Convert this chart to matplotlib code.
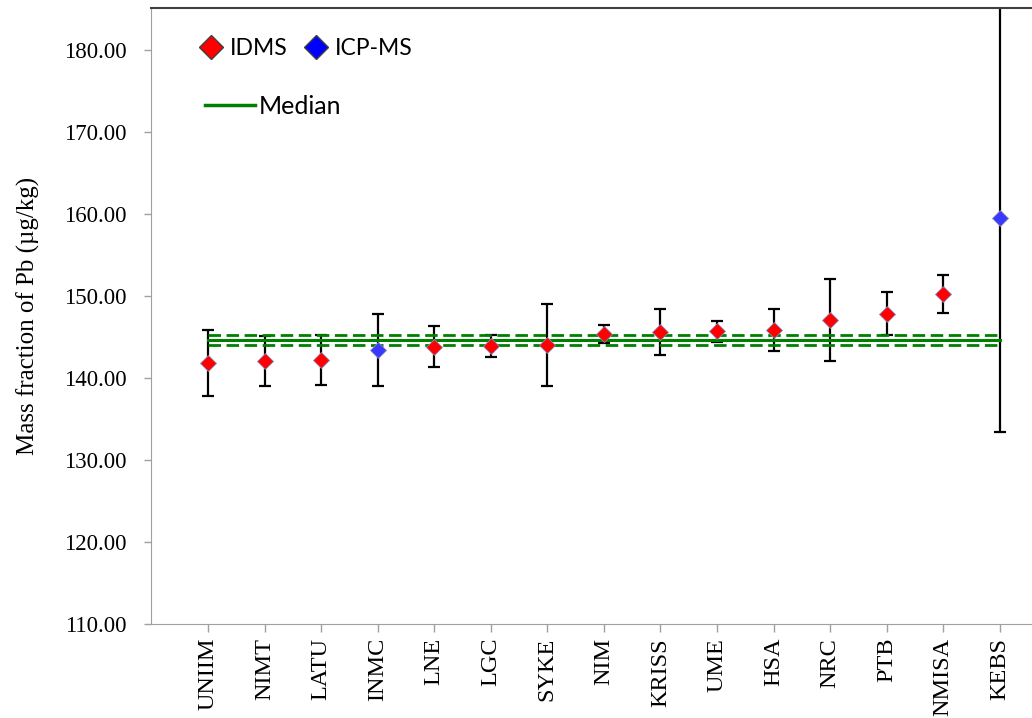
import matplotlib
matplotlib.use("Agg")
import matplotlib.pyplot as plt
from matplotlib.lines import Line2D
import numpy as np

# lab results
labs = ["UNIIM", "NIMT", "LATU", "INMC", "LNE", "LGC", "SYKE", "NIM",
        "KRISS", "UME", "HSA", "NRC", "PTB", "NMISA", "KEBS"]
values = [141.85, 142.1, 142.2, 143.4, 143.8, 143.9, 144.0, 145.35,
          145.65, 145.7, 145.85, 147.05, 147.85, 150.24, 159.5]
uncert = [4.05, 3.05, 3.05, 4.35, 2.5, 1.3, 5.0, 1.1,
          2.8, 1.3, 2.6, 5.0, 2.6, 2.27, 26.1]
method = ["IDMS", "IDMS", "IDMS", "ICP-MS", "IDMS", "IDMS", "IDMS", "IDMS",
          "IDMS", "IDMS", "IDMS", "IDMS", "IDMS", "IDMS", "ICP-MS"]
median = 144.65
median_unc = 0.6

colors = {"IDMS": "#ff0000", "ICP-MS": "#3838ff"}

plt.rcParams['font.family'] = ["Liberation Serif", "DejaVu Serif"]

fig = plt.figure(figsize=(10.32, 7.18), dpi=100)
ax = fig.add_axes([151.4 / 1032, 94 / 718, 1 - 151.4 / 1032, 616 / 718])

x = np.arange(1, len(labs) + 1)

ax.errorbar(x, values, yerr=uncert, fmt="none", ecolor="black",
            elinewidth=1.6, capsize=4.5, capthick=1.6, zorder=2)

ax.plot([1, 15], [median, median], color="#008000", lw=2.2, zorder=3)
ax.plot([1, 15], [median + median_unc] * 2, color="#008000", lw=2.0,
        ls=(0, (4.5, 2)), zorder=3)
ax.plot([1, 15], [median - median_unc] * 2, color="#008000", lw=2.0,
        ls=(0, (4.5, 2)), zorder=3)

for xi, v, m in zip(x, values, method):
    ax.plot(xi, v, marker="D", ms=8.4, color=colors[m],
            markeredgecolor="#8888bb", markeredgewidth=0.6, zorder=4)

ax.set_xlim(0, 15.57)
ax.set_ylim(110, 185.1)
ax.set_yticks(np.arange(110, 181, 10))
ax.set_yticklabels([f"{t:.2f}" for t in np.arange(110, 181, 10)])
ax.set_xticks(x)
ax.set_xticklabels(labs, rotation=90)
ax.set_ylabel("Mass fraction of Pb (µg/kg)", fontsize=18, labelpad=17)

ax.tick_params(axis="y", direction="out", length=5, color="#a0a0a0",
               width=1, pad=13, labelsize=16.5)
ax.tick_params(axis="x", direction="out", length=6, color="#a0a0a0",
               width=1, pad=4, labelsize=17.5)
ax.spines["right"].set_visible(False)
ax.spines["left"].set_color("#a0a0a0")
ax.spines["bottom"].set_color("#a0a0a0")
ax.spines["top"].set_color("#404040")
ax.spines["top"].set_linewidth(1.5)

# legend: markers row and median row
h1 = [Line2D([], [], ls="none", marker="D", ms=12.5, color="#ff0000",
             markeredgecolor="#404040", markeredgewidth=1),
      Line2D([], [], ls="none", marker="D", ms=12.5, color="#0000ff",
             markeredgecolor="#404040", markeredgewidth=1)]
leg1 = ax.legend(h1, ["IDMS", "ICP-MS"], ncol=2, loc="upper left",
                 bbox_to_anchor=(0.031, 0.985), frameon=False,
                 prop={"family": "Lato", "size": 16.5}, handlelength=1.0,
                 handletextpad=0.35, columnspacing=0.7)
ax.add_artist(leg1)
h2 = [Line2D([], [], color="#008000", lw=2.5)]
ax.legend(h2, ["Median"], loc="upper left", bbox_to_anchor=(0.035, 0.895),
          frameon=False, prop={"family": "Lato", "size": 18},
          handlelength=2.0, handletextpad=0.15)

fig.savefig("out.png", dpi=100)
